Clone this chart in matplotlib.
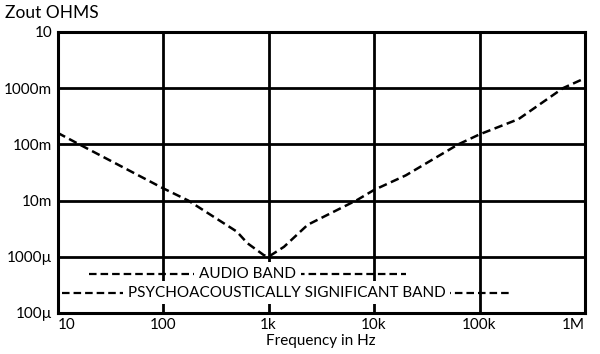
import numpy as np
import matplotlib
matplotlib.use('Agg')
import matplotlib.pyplot as plt

# curve (Hz, ohms)
freq = [10, 16, 100, 173, 500, 630, 900, 1000, 1400, 2350, 6900,
        10000, 20000, 63000, 100000, 234000, 620000, 1000000]
zout = [0.16, 0.1, 0.0165, 0.01, 0.0028, 0.00174, 0.00107, 0.001, 0.0015,
        0.0037, 0.0102, 0.0154, 0.028, 0.1, 0.15, 0.28, 1.0, 1.5]

# bands: (label, f_lo, f_hi, level)
band_names = ['AUDIO BAND', 'PSYCHOACOUSTICALLY SIGNIFICANT BAND']
band_lo = [20, 11]
band_hi = [20000, 200000]
band_level = [5.0e-4, 2.3e-4]

xticks = [10, 100, 1e3, 1e4, 1e5, 1e6]
xtick_labels = ['10', '100', '1k', '10k', '100k', '1M']
yticks = [1e-4, 1e-3, 1e-2, 1e-1, 1, 10]
ytick_labels = ['100\u00b5', '1000\u00b5', '10m', '100m', '1000m', '10']

plt.rcParams['font.family'] = ['Lato', 'DejaVu Sans']

fig = plt.figure(figsize=(6, 3.54), dpi=100)
ax = fig.add_axes([0.096, 0.116, 0.879, 0.794])
ax.set_xscale('log')
ax.set_yscale('log')
ax.set_xlim(10, 1e6)
ax.set_ylim(1e-4, 10)

ax.plot(freq, zout, color='black', lw=1.8, dashes=(3.4, 1.8))

for name, lo, hi, lev in zip(band_names, band_lo, band_hi, band_level):
    ax.plot([lo, hi], [lev, lev], color='black', lw=1.6, dashes=(3.4, 1.8))
    ax.text(np.sqrt(lo * hi), lev, name, ha='center', va='center',
            fontsize=11, bbox=dict(facecolor='white', edgecolor='none', pad=3.5))

ax.set_xticks(xticks)
ax.set_xticklabels(xtick_labels, fontsize=11)
ax.set_yticks(yticks)
ax.set_yticklabels(ytick_labels, fontsize=11)
ax.minorticks_off()
ax.tick_params(length=0, pad=4)
labs = ax.get_xticklabels()
labs[0].set_ha('left')
labs[-1].set_ha('right')

ax.grid(True, which='major', color='black', lw=2.0)
for s in ax.spines.values():
    s.set_linewidth(2.2)

ax.set_xlabel('Frequency in Hz', fontsize=11, labelpad=1)
fig.text(0.008, 0.985, 'Zout OHMS', fontsize=12.5, va='top', ha='left')

fig.savefig('out.png', dpi=100)
